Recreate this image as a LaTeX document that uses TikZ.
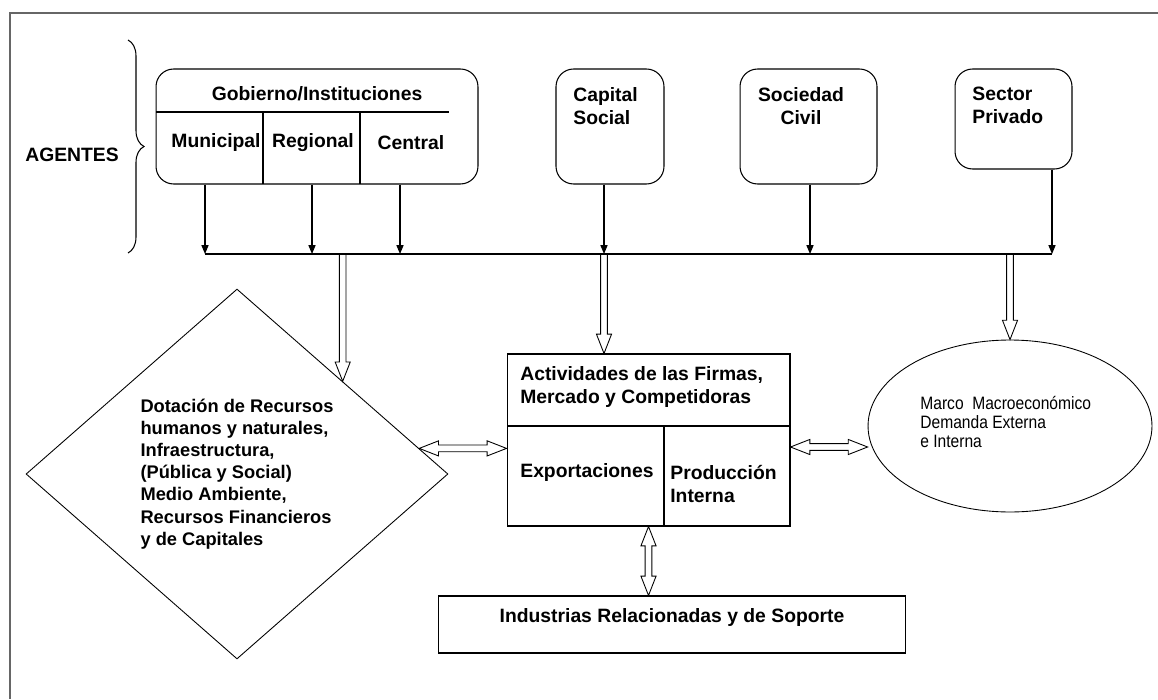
\documentclass[tikz,border=0pt]{standalone}
\usepackage{fontspec}
\setmainfont{Liberation Sans}
\newfontfamily\narrowfont[FakeStretch=0.87]{Liberation Sans}
\usetikzlibrary{shapes.geometric,arrows.meta,decorations.pathreplacing,calc}

% medidas de las flechas huecas
\def\hs{1.9pt}
\def\hh{4.3pt}
\def\hl{11pt}

\tikzset{
  agente/.style={draw, rounded corners=10pt, line width=0.6pt},
  caja/.style={draw, line width=0.6pt},
  txt/.style={inner sep=0pt, font=\bfseries\fontsize{11}{13}\selectfont},
  flecha/.style={line width=0.6pt, -{Triangle[length=5pt,width=4pt]}},
  hueca/.style={line width=0.5pt, to path={
      ($(\tikztostart)!\hs!90:(\tikztotarget)$)
      -- ($($(\tikztotarget)!\hl!(\tikztostart)$)!\hs!90:(\tikztotarget)$)
      -- ($($(\tikztotarget)!\hl!(\tikztostart)$)!\hh!90:(\tikztotarget)$)
      -- (\tikztotarget)
      -- ($($(\tikztotarget)!\hl!(\tikztostart)$)!\hh!-90:(\tikztotarget)$)
      -- ($($(\tikztotarget)!\hl!(\tikztostart)$)!\hs!-90:(\tikztotarget)$)
      -- ($(\tikztostart)!\hs!-90:(\tikztotarget)$)
      -- cycle}},
  hueca2/.style={line width=0.5pt, to path={
      (\tikztostart)
      -- ($($(\tikztostart)!\hl!(\tikztotarget)$)!\hh!90:(\tikztotarget)$)
      -- ($($(\tikztostart)!\hl!(\tikztotarget)$)!\hs!90:(\tikztotarget)$)
      -- ($($(\tikztotarget)!\hl!(\tikztostart)$)!\hs!90:(\tikztotarget)$)
      -- ($($(\tikztotarget)!\hl!(\tikztostart)$)!\hh!90:(\tikztotarget)$)
      -- (\tikztotarget)
      -- ($($(\tikztotarget)!\hl!(\tikztostart)$)!\hh!-90:(\tikztotarget)$)
      -- ($($(\tikztotarget)!\hl!(\tikztostart)$)!\hs!-90:(\tikztotarget)$)
      -- ($($(\tikztostart)!\hl!(\tikztotarget)$)!\hs!-90:(\tikztotarget)$)
      -- ($($(\tikztostart)!\hl!(\tikztotarget)$)!\hh!-90:(\tikztotarget)$)
      -- cycle}}
}

\begin{document}
\begin{tikzpicture}[x=0.02cm, y=-0.02cm]
  \useasboundingbox (0,0) rectangle (1158,699);
  % marco
  \draw[gray!80!black, line width=1.2pt] (10,699) -- (10,13) -- (1158,13);

  % agentes
  \node[txt, anchor=west] (agentes) at (25,155) {AGENTES};
  \coordinate (llave1) at (128,40);
  \coordinate (llave2) at (128,253);
  \draw[decorate, decoration={brace, amplitude=0.32cm}, line width=0.6pt] (llave1) -- (llave2);

  \node[agente, minimum width=6.44cm, minimum height=2.3cm] (gob) at (317,126.5) {};
  \draw[line width=0.6pt] (156,112) -- (449,112);
  \draw[line width=0.6pt] (263,112) -- (263,184);
  \draw[line width=0.6pt] (360,112) -- (360,184);
  \node[txt] (gobt) at (317,94) {Gobierno/Instituciones};
  \node[txt] (muni) at (216,143) {Municipal};
  \node[txt] (regi) at (313,143) {Regional};
  \node[txt] (cent) at (411,143) {Central};

  \node[agente, minimum width=2.16cm, minimum height=2.3cm] (cap) at (610,126.5) {};
  \node[txt, anchor=west, align=left] (capt) at (573,106.5) {Capital\\Social};
  \node[agente, minimum width=2.74cm, minimum height=2.3cm] (soc) at (808.5,126.5) {};
  \node[txt, align=center] (soct) at (801,106.5) {Sociedad\\Civil};
  \node[agente, minimum width=2.34cm, minimum height=2.0cm] (sec) at (1013.5,119) {};
  \node[txt, anchor=west, align=left] (sect) at (972,105) {Sector\\Privado};

  % barra comun
  \coordinate (b1) at (205,254);
  \coordinate (b2) at (312,254);
  \coordinate (b3) at (400,254);
  \coordinate (b4) at (604,254);
  \coordinate (b5) at (810,254);
  \coordinate (b6) at (1052,254);
  \draw[line width=0.6pt] (b1) -- (b6);
  \draw[flecha] (b1 |- gob.south) -- (b1);
  \draw[flecha] (b2 |- gob.south) -- (b2);
  \draw[flecha] (b3 |- gob.south) -- (b3);
  \draw[flecha] (b4 |- cap.south) -- (b4);
  \draw[flecha] (b5 |- soc.south) -- (b5);
  \draw[flecha] (b6 |- sec.south) -- (b6);

  % recursos
  \node[draw, diamond, line width=0.5pt, minimum width=8.44cm, minimum height=7.4cm, inner sep=0pt,
        align=left, font=\bfseries\fontsize{10.4}{12.6}\selectfont] (dot) at (237,474)
        {Dotación de Recursos\\humanos y naturales,\\Infraestructura,\\(Pública y Social)\\Medio Ambiente,\\Recursos Financieros\\y de Capitales};

  % firmas
  \node[caja, minimum width=5.66cm, minimum height=3.44cm] (firm) at (648.5,440) {};
  \draw[line width=0.6pt] (507,426) -- (790,426);
  \draw[line width=0.6pt] (664,426) -- (664,526);
  \node[txt, anchor=west, align=left] (firmt) at (520,387) {Actividades de las Firmas,\\Mercado y Competidoras};
  \node[txt, anchor=west] (expo) at (520,472) {Exportaciones};
  \node[txt, anchor=west, align=left] (prod) at (670,484) {Producción\\Interna};

  % marco macro
  \node[draw, ellipse, line width=0.5pt, minimum width=5.68cm, minimum height=3.44cm] (macro) at (1010,426) {};
  \node[anchor=west, align=left, inner sep=0pt, font=\narrowfont\fontsize{10.2}{10.8}\selectfont] (macrot) at (920,422)
        {Marco\ \ Macroeconómico\\Demanda Externa\\e Interna};

  % industrias
  \node[caja, minimum width=9.36cm, minimum height=1.14cm] (ind) at (672,624.5) {};
  \node[txt] (indt) at (672,617) {Industrias Relacionadas y de Soporte};

  % flechas huecas
  \draw[hueca] (dot.north east |- b1) to (dot.north east);
  \draw[hueca] (b4) to (b4 |- firm.north);
  \draw[hueca] (macro.north |- b1) to (macro.north);
  \draw[hueca2] (dot.8) to (dot.8 -| firm.west);
  \draw[hueca2] ([yshift=-0.14cm]firm.east) to ([yshift=-0.14cm]firm.east -| macro.west);
  \draw[hueca2] (firm.south) to (firm.south |- ind.north);
\end{tikzpicture}
\end{document}
